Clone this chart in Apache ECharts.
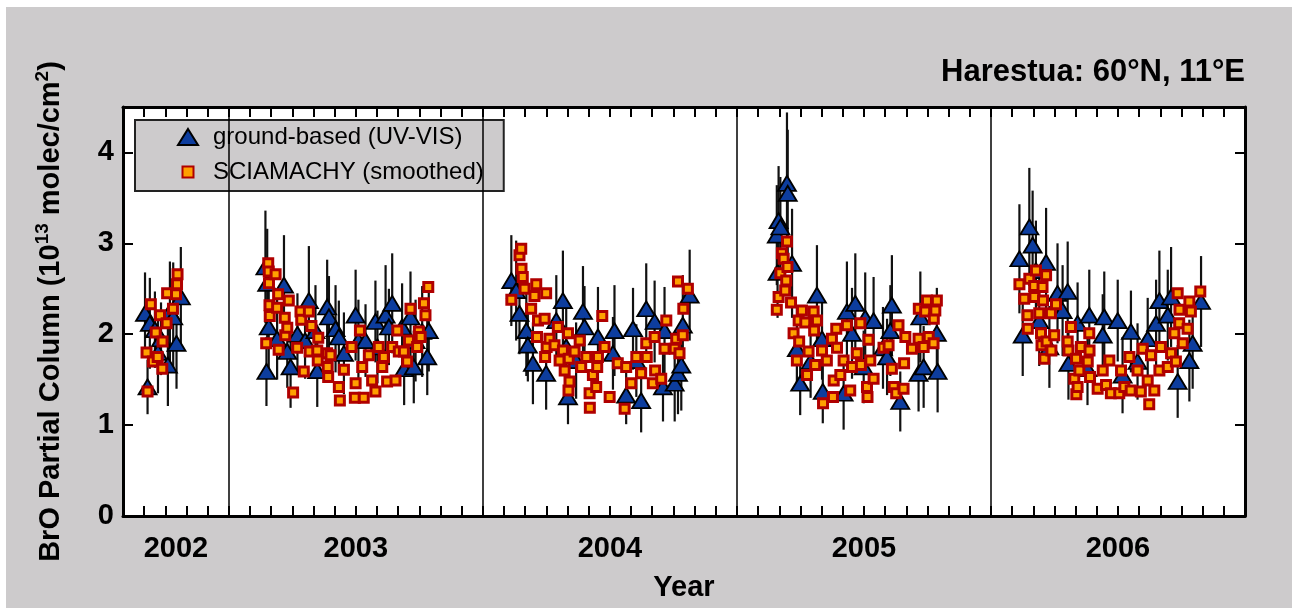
<!DOCTYPE html>
<html><head><meta charset="utf-8">
<script src="https://cdn.jsdelivr.net/npm/echarts@6/dist/echarts.min.js"></script>
<style>
html,body{margin:0;padding:0;background:#fff;width:1292px;height:608px;overflow:hidden}
#c{position:absolute;left:6px;top:7px;width:1286px;height:601px}
</style></head>
<body><div id="c"></div>
<script>
// ---- data (decimal year, BrO partial column in 1e13 molec/cm2) ----
const groundDates = [
 2002.670,2002.680,2002.689,2002.709,2002.721,2002.733,2002.760,2002.768,2002.781,2002.794,2002.811,
 2003.144,2003.151,2003.157,2003.148,2003.190,2003.217,2003.230,2003.243,2003.270,2003.300,2003.315,2003.341,2003.348,2003.387,2003.394,2003.420,2003.433,2003.453,2003.499,2003.510,2003.538,2003.577,2003.585,2003.617,2003.630,2003.643,2003.682,2003.690,2003.715,2003.728,2003.735,2003.761,2003.781,2003.787,
 2004.112,2004.131,2004.144,2004.171,2004.177,2004.197,2004.249,2004.289,2004.315,2004.328,2004.335,2004.367,2004.394,2004.400,2004.453,2004.512,2004.518,2004.564,2004.591,2004.604,2004.623,2004.643,2004.676,2004.709,2004.715,2004.755,2004.768,2004.781,2004.787,2004.814,
 2005.157,2005.160,2005.164,2005.171,2005.197,2005.200,2005.217,2005.236,2005.249,2005.290,2005.315,2005.335,2005.338,2005.420,2005.433,2005.453,2005.466,2005.499,2005.505,2005.538,2005.575,2005.591,2005.604,2005.610,2005.643,2005.715,2005.722,2005.735,2005.787,2005.790,
 2006.112,2006.125,2006.151,2006.164,2006.177,2006.190,2006.217,2006.230,2006.262,2006.282,2006.302,2006.305,2006.341,2006.380,2006.387,2006.440,2006.446,2006.499,2006.518,2006.551,2006.577,2006.617,2006.650,2006.663,2006.696,2006.709,2006.735,2006.781,2006.794,2006.827
];
const groundValues = [
 2.23,1.42,2.12,2.05,1.80,1.95,1.66,2.25,2.19,1.90,2.41,
 2.74,2.56,2.08,1.59,1.95,2.54,1.81,1.64,2.00,1.93,2.37,2.04,1.60,2.30,2.19,2.06,1.97,1.79,2.21,1.93,1.93,2.14,1.86,2.21,2.08,2.34,2.08,1.62,2.19,1.64,1.93,2.03,1.75,2.04,
 2.59,2.48,2.23,2.04,1.88,1.68,1.57,2.15,2.37,1.86,1.31,1.71,2.25,2.08,1.97,1.79,2.04,1.33,2.06,1.71,1.27,2.28,2.14,1.42,2.04,1.46,1.57,1.66,2.10,2.43,
 3.09,2.68,3.25,3.18,3.66,3.55,2.78,1.84,1.46,1.70,2.43,1.95,1.37,1.35,2.25,2.01,2.34,1.64,2.18,2.15,1.85,1.75,2.04,2.32,1.26,1.57,2.19,1.64,2.01,1.59,
 2.83,1.99,3.18,2.98,2.70,2.15,2.79,1.86,2.45,2.26,2.47,1.68,2.12,1.62,2.21,1.99,2.19,2.15,1.55,2.03,1.70,1.95,2.12,2.37,2.21,2.41,1.48,1.71,1.90,2.36
];
const groundErrors = [
 0.45,0.30,0.50,0.42,0.45,0.40,0.45,0.55,0.60,0.50,0.55,
 0.62,0.60,0.55,0.38,0.45,0.55,0.40,0.45,0.45,0.42,0.60,0.50,0.40,0.52,0.45,0.48,0.40,0.45,0.50,0.45,0.40,0.45,0.40,0.55,0.42,0.55,0.48,0.40,0.50,0.40,0.45,0.50,0.42,0.45,
 0.50,0.55,0.45,0.50,0.40,0.45,0.40,0.50,0.55,0.45,0.30,0.42,0.50,0.45,0.55,0.40,0.50,0.32,0.45,0.40,0.35,0.50,0.45,0.38,0.48,0.42,0.45,0.50,0.55,0.50,
 0.55,0.50,0.60,0.55,0.78,0.70,0.60,0.45,0.35,0.40,0.55,0.45,0.35,0.40,0.55,0.50,0.55,0.40,0.50,0.48,0.45,0.42,0.50,0.55,0.33,0.42,0.50,0.45,0.50,0.45,
 0.60,0.45,0.65,0.60,0.55,0.50,0.60,0.45,0.55,0.50,0.55,0.40,0.45,0.40,0.50,0.45,0.50,0.45,0.42,0.45,0.42,0.45,0.48,0.55,0.50,0.55,0.40,0.45,0.50,0.50
];
const sciaDates = [
 2002.676,2002.680,2002.693,2002.701,2002.712,2002.720,2002.729,2002.738,2002.739,2002.755,2002.757,2002.780,2002.792,2002.796,2002.798,
 2003.147,2003.155,2003.157,2003.158,2003.160,2003.161,2003.184,2003.190,2003.194,2003.196,2003.220,2003.222,2003.230,2003.236,2003.253,2003.269,2003.282,2003.285,2003.295,2003.315,2003.318,2003.325,2003.348,2003.350,2003.352,2003.387,2003.389,2003.391,2003.400,2003.433,2003.437,2003.453,2003.483,2003.496,2003.499,2003.516,2003.525,2003.531,2003.551,2003.564,2003.577,2003.590,2003.604,2003.610,2003.623,2003.643,2003.656,2003.663,2003.669,2003.689,2003.702,2003.709,2003.715,2003.741,2003.748,2003.755,2003.768,2003.774,2003.785,
 2004.112,2004.144,2004.151,2004.152,2004.157,2004.164,2004.190,2004.203,2004.210,2004.213,2004.217,2004.243,2004.245,2004.249,2004.251,2004.262,2004.282,2004.295,2004.302,2004.315,2004.322,2004.335,2004.337,2004.338,2004.341,2004.361,2004.381,2004.387,2004.407,2004.420,2004.421,2004.433,2004.446,2004.450,2004.453,2004.470,2004.479,2004.499,2004.531,2004.558,2004.564,2004.584,2004.604,2004.623,2004.643,2004.645,2004.669,2004.676,2004.678,2004.702,2004.715,2004.722,2004.755,2004.761,2004.768,2004.774,2004.787,2004.789,2004.807,
 2005.157,2005.164,2005.171,2005.177,2005.184,2005.190,2005.194,2005.197,2005.199,2005.213,2005.223,2005.236,2005.243,2005.245,2005.256,2005.269,2005.276,2005.282,2005.302,2005.304,2005.308,2005.315,2005.335,2005.339,2005.354,2005.374,2005.378,2005.381,2005.391,2005.394,2005.407,2005.420,2005.433,2005.446,2005.453,2005.472,2005.486,2005.488,2005.512,2005.514,2005.518,2005.525,2005.538,2005.577,2005.597,2005.610,2005.617,2005.627,2005.636,2005.656,2005.658,2005.663,2005.689,2005.715,2005.716,2005.735,2005.741,2005.748,2005.755,2005.774,2005.775,2005.781,2005.787,
 2006.112,2006.131,2006.144,2006.145,2006.151,2006.170,2006.171,2006.177,2006.190,2006.197,2006.199,2006.203,2006.205,2006.210,2006.217,2006.219,2006.236,2006.238,2006.249,2006.256,2006.302,2006.305,2006.315,2006.328,2006.335,2006.336,2006.341,2006.348,2006.354,2006.381,2006.387,2006.388,2006.390,2006.420,2006.440,2006.453,2006.466,2006.472,2006.505,2006.512,2006.525,2006.545,2006.550,2006.577,2006.590,2006.597,2006.617,2006.623,2006.630,2006.643,2006.663,2006.669,2006.696,2006.709,2006.722,2006.728,2006.735,2006.741,2006.742,2006.755,2006.774,2006.781,2006.787,2006.824
];
const sciaValues = [
 1.80,1.37,2.33,1.70,2.02,1.75,2.21,1.62,1.92,2.12,2.45,2.28,2.44,2.55,2.66,
 1.90,2.78,2.69,2.56,2.32,2.20,2.66,2.29,2.44,1.83,2.18,1.99,2.07,2.37,1.36,1.85,2.25,2.16,1.59,2.25,1.81,2.09,1.82,1.71,1.96,1.79,1.64,1.53,1.77,1.42,1.27,1.61,1.86,1.30,1.46,2.04,1.64,1.30,1.77,1.49,1.37,1.86,1.64,1.75,1.48,1.86,1.49,2.04,1.81,1.81,1.70,1.93,2.28,1.86,2.03,1.97,2.34,2.21,2.52,
 2.38,2.87,2.94,2.72,2.63,2.50,2.28,2.42,2.55,1.97,2.15,2.17,1.75,2.45,1.86,1.95,1.88,2.08,1.71,1.82,1.60,2.01,1.38,1.73,1.48,1.81,1.93,1.64,1.75,1.35,1.19,1.55,1.42,1.64,1.75,2.20,1.86,1.31,1.68,1.18,1.64,1.46,1.75,1.57,1.90,1.75,1.46,1.97,1.60,1.51,1.84,2.15,1.84,1.95,2.58,1.79,1.99,2.28,2.50,
 2.27,2.41,2.67,2.89,2.83,2.48,2.59,3.02,2.74,2.35,2.01,1.71,2.15,1.92,2.26,2.13,1.55,1.81,2.25,2.04,1.66,2.15,1.82,1.24,1.71,1.95,1.31,1.49,2.06,1.85,1.55,1.71,2.10,1.38,1.64,1.79,2.12,1.66,1.42,1.31,1.94,1.71,1.51,1.85,1.88,1.62,1.42,1.35,2.10,1.40,1.68,1.97,1.84,1.95,2.28,1.86,2.25,2.37,1.97,1.90,2.17,2.26,2.37,
 2.55,2.39,2.21,2.06,2.61,2.53,2.41,2.70,2.23,2.01,1.88,2.52,2.37,1.73,2.65,1.92,2.23,1.82,1.99,2.33,1.92,1.82,2.08,1.51,1.73,1.34,1.42,1.60,1.86,1.70,2.01,1.82,1.53,1.40,1.60,1.44,1.71,1.35,1.35,1.60,1.42,1.75,1.38,1.60,1.37,1.84,1.49,1.23,1.77,1.38,1.60,1.86,1.64,1.79,2.01,1.70,2.45,2.12,2.27,1.90,2.06,2.36,2.25,2.47
];
const yearLabels = ['2002','2003','2004','2005','2006'];
const yTickLabels = [0,1,2,3,4];
const yearBoundaries = [2003,2004,2005,2006];
const axisStartYear = 2002 + 7/12;   // Aug 2002
const axisEndYear = 2007;

// ---- helpers ----
const toMonth = t => (t - 2002) * 12;    // months since Jan 2002
const xMin = 7, xMax = 60;
const labelPos = yearLabels.map(y => {
  const s = Math.max(axisStartYear, +y), e = Math.min(axisEndYear, +y + 1);
  return toMonth((s + e) / 2);
});
const FONT = '"Liberation Sans", Arial, Helvetica, sans-serif';
const BG = '#cdcbcc';

const groundData = groundDates.map((t, i) => [toMonth(t), groundValues[i]]);
const errData = groundDates.map((t, i) => [toMonth(t), groundValues[i], groundErrors[i]]);
const sciaData = sciaDates.map((t, i) => [toMonth(t), sciaValues[i]]);

const frameLine = {show: true, onZero: false, lineStyle: {color: '#000', width: 3}};
const xTick = {show: true, inside: true, length: 10, interval: 0, lineStyle: {color: '#000', width: 2}};
const yTick = {show: true, inside: true, length: 10, lineStyle: {color: '#000', width: 2}};

const chart = echarts.init(document.getElementById('c'), null, {renderer: 'canvas'});
chart.setOption({
  backgroundColor: BG,
  animation: false,
  textStyle: {fontFamily: FONT},
  title: {
    text: 'Harestua: 60°N, 11°E', right: 47, top: 50, padding: 0,
    textStyle: {fontFamily: FONT, fontSize: 31, fontWeight: 'bold', color: '#000'}
  },
  legend: {
    data: [
      {name: 'ground-based (UV-VIS)'},
      {name: 'SCIAMACHY (smoothed)', icon: 'path://M0,0M20,16M4.5,2.5h11v11h-11z'}
    ],
    orient: 'vertical', left: 129, top: 113,
    padding: [5, 20, 7, 42], itemGap: 11, itemWidth: 20, itemHeight: 16,
    backgroundColor: BG, borderColor: '#222', borderWidth: 2, borderRadius: 0,
    selectedMode: false,
    textStyle: {fontFamily: FONT, fontSize: 24, color: '#000', padding: [0, 0, 0, 10], lineHeight: 24}
  },
  grid: {left: 117, top: 100, right: 47, bottom: 92, show: true, backgroundColor: '#fff', borderWidth: 0, containLabel: false},
  xAxis: [
    {type: 'value', position: 'bottom', min: xMin, max: xMax, interval: 1,
     axisLine: frameLine, axisTick: xTick, axisLabel: {show: false}, splitLine: {show: false},
     name: 'Year', nameLocation: 'middle', nameGap: 57,
     nameTextStyle: {fontFamily: FONT, fontSize: 29, fontWeight: 'bold', color: '#000'}},
    {type: 'value', position: 'top', min: xMin, max: xMax, interval: 1,
     axisLine: frameLine, axisTick: xTick, axisLabel: {show: false}, splitLine: {show: false}},
    {type: 'value', position: 'bottom', min: xMin, max: xMax, interval: 0.5,
     axisLine: {show: false}, axisTick: {show: false}, splitLine: {show: false},
     axisLabel: {show: true, margin: 18, fontFamily: FONT, fontSize: 29, fontWeight: 'bold', color: '#000',
       showMinLabel: true, showMaxLabel: true,
       formatter: v => { const i = labelPos.findIndex(p => Math.abs(p - v) < 0.01); return i >= 0 ? yearLabels[i] : ''; }}}
  ],
  yAxis: [
    {type: 'value', position: 'left', min: 0, max: 4.5, interval: 1,
     axisLine: frameLine, axisTick: yTick, splitLine: {show: false},
     axisLabel: {margin: 9, fontFamily: FONT, fontSize: 29, fontWeight: 'bold', color: '#000',
       formatter: v => yTickLabels.includes(v) ? String(v) : ''},
     name: '{n|BrO Partial Column (10}{s|13}{n| molec/cm}{s|2}{n|)}',
     nameLocation: 'middle', nameRotate: 90, nameGap: 58,
     nameTextStyle: {
       rich: {
         n: {fontFamily: FONT, fontSize: 29, fontWeight: 'bold', color: '#000', lineHeight: 32, verticalAlign: 'bottom'},
         s: {fontFamily: FONT, fontSize: 19, fontWeight: 'bold', color: '#000', lineHeight: 32, verticalAlign: 'top', padding: [0, 0, 12, 0]}
       }
     }},
    {type: 'value', position: 'right', min: 0, max: 4.5, interval: 1,
     axisLine: frameLine, axisTick: yTick, splitLine: {show: false}, axisLabel: {show: false}}
  ],
  series: [
    {
      type: 'custom', name: 'errors', xAxisIndex: 0, yAxisIndex: 0, silent: true, z: 2,
      data: errData, encode: {x: 0, y: 1},
      renderItem: (params, api) => {
        const x = api.value(0), v = api.value(1), e = api.value(2);
        const p1 = api.coord([x, v - e]), p2 = api.coord([x, v + e]);
        return {type: 'line', shape: {x1: p1[0], y1: p1[1], x2: p2[0], y2: p2[1]},
                style: {stroke: '#111', lineWidth: 2.2}};
      }
    },
    {
      type: 'scatter', name: 'ground-based (UV-VIS)', xAxisIndex: 0, yAxisIndex: 0, z: 3,
      symbol: 'triangle', symbolSize: [18, 15],
      itemStyle: {color: '#0d3d9e', borderColor: '#000', borderWidth: 1.8, opacity: 1},
      data: groundData,
      markLine: {
        silent: true, symbol: ['none', 'none'], label: {show: false}, animation: false,
        lineStyle: {color: '#000', width: 1.5, type: 'solid'},
        data: yearBoundaries.map(y => ({xAxis: toMonth(y)}))
      }
    },
    {
      type: 'scatter', name: 'SCIAMACHY (smoothed)', xAxisIndex: 0, yAxisIndex: 0, z: 4,
      symbol: 'rect', symbolSize: 9,
      itemStyle: {color: '#ffa000', borderColor: '#b00000', borderWidth: 3, opacity: 1},
      data: sciaData
    }
  ]
});
</script>
</body></html>
